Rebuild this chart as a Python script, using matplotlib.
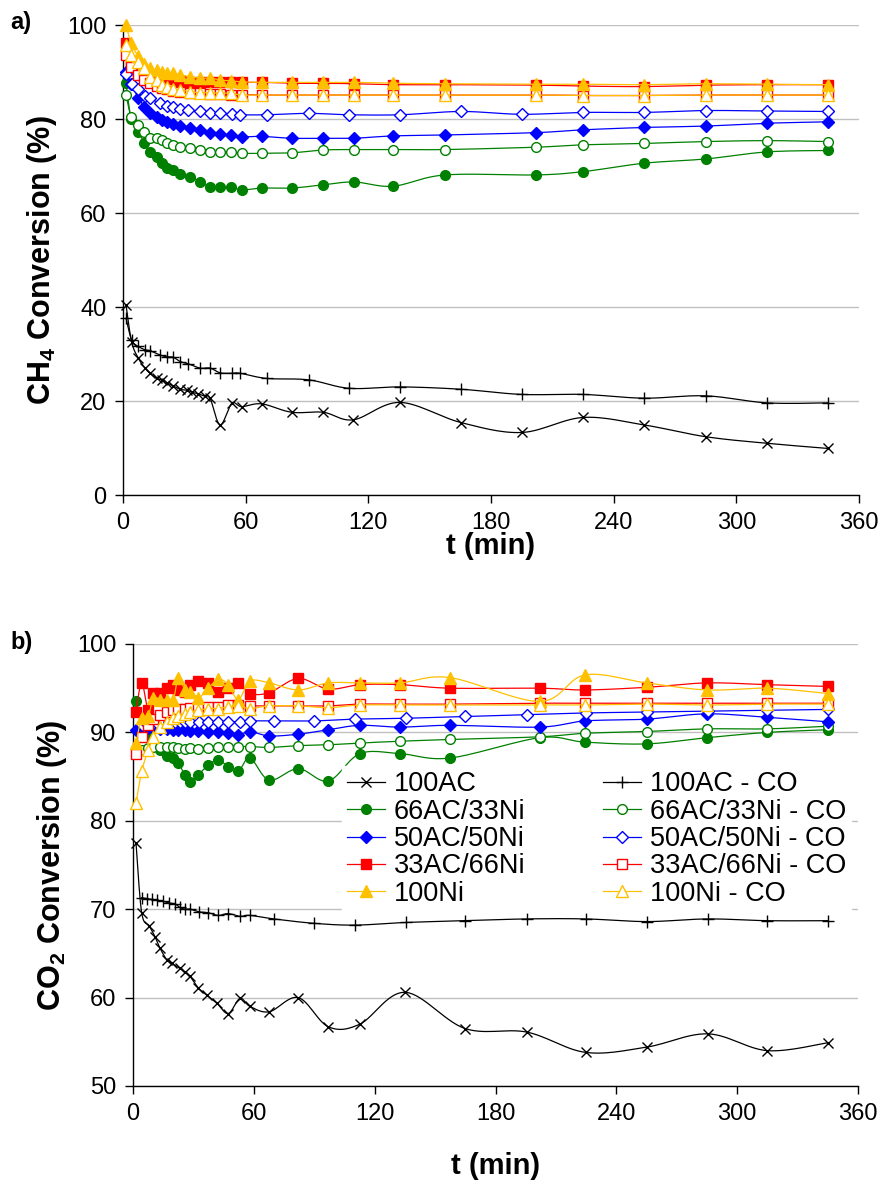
import numpy as np
import matplotlib
matplotlib.use("Agg")
import matplotlib.pyplot as plt
from matplotlib.lines import Line2D

plt.rcParams["font.family"] = ["Liberation Sans", "DejaVu Sans"]
plt.rcParams["mathtext.fontset"] = "custom"
plt.rcParams["mathtext.rm"] = "Liberation Sans"
plt.rcParams["mathtext.bf"] = "Liberation Sans:bold"

# ---------------- panel a) CH4 conversion ----------------
t_a_ac = [1.5, 4.2, 7.5, 10.8, 13.2, 16.5, 18.9, 21.4, 24.6, 27.9, 31.2, 33.6, 36.9, 40.1, 42.6,
          47.5, 53.2, 58.0, 67.8, 82.5, 98.0, 112.7, 135.5, 165.4, 195, 225, 255, 285, 315, 345]
ch4_100ac = [40.4, 32.6, 29.1, 27.0, 25.9, 24.8, 24.5, 23.9, 23.2, 22.5, 22.3, 21.9, 21.5, 21.0, 20.6,
             14.9, 19.5, 18.8, 19.4, 17.6, 17.6, 16.0, 19.7, 15.4, 13.3, 16.5, 14.9, 12.4, 11.0, 9.9]

t_a_co = [1.5, 4.2, 7.5, 10.8, 13.2, 18.0, 21.4, 24.6, 27.9, 32.0, 37.7, 42.6, 47.5, 53.2, 57.3,
          70.4, 90.8, 110.7, 135.5, 165.4, 195, 225, 255, 285, 315, 345]
ch4_100ac_co = [37.6, 33.0, 31.6, 30.9, 30.7, 29.8, 29.4, 29.3, 28.4, 27.9, 27.0, 27.0, 26.0, 25.9, 25.9,
                24.8, 24.5, 22.7, 23.0, 22.5, 21.4, 21.4, 20.6, 21.1, 19.6, 19.6]
ch4_50_co = [89.5, 87.5, 86.3, 85.0, 84.4, 83.3, 82.8, 82.5, 82.2, 82.0, 81.6, 81.3, 81.2, 81.1, 80.9,
             80.9, 81.2, 80.9, 80.9, 81.6, 81.0, 81.4, 81.4, 81.8, 81.7, 81.6]

t_a = [1.5, 4, 7.5, 10.5, 13, 16.5, 19, 21.5, 24.5, 28, 33, 37.5, 42.5, 47.5, 53, 58, 68, 82.5,
       98, 113, 132, 157.5, 202, 225, 255, 285, 315, 345]
ch4_66 = [87.6, 80.0, 77.3, 74.8, 73.0, 72.0, 70.6, 69.5, 69.1, 68.4, 67.7, 66.7, 65.6, 65.6, 65.6,
          64.9, 65.3, 65.3, 66.0, 66.6, 65.7, 68.1, 68.1, 68.8, 70.6, 71.5, 73.0, 73.3]
ch4_66_co = [85.1, 80.5, 78.7, 77.3, 75.9, 75.9, 75.5, 74.8, 74.5, 74.1, 73.8, 73.4, 73.0, 73.0, 73.0,
             72.7, 72.7, 72.8, 73.4, 73.5, 73.5, 73.5, 74.0, 74.5, 74.8, 75.2, 75.4, 75.2]
ch4_50 = [90.0, 87.5, 84.5, 82.6, 81.2, 80.5, 79.8, 79.4, 78.9, 78.5, 78.1, 77.7, 77.1, 76.8, 76.6,
          76.2, 76.3, 75.9, 75.9, 75.9, 76.4, 76.6, 77.1, 77.7, 78.2, 78.5, 79.1, 79.4]
ch4_33 = [96.1, 91.5, 90.1, 89.7, 89.4, 89.0, 88.7, 88.3, 88.3, 88.1, 87.9, 87.9, 87.8, 87.8, 87.8,
          87.8, 87.8, 87.6, 87.6, 87.5, 87.3, 87.3, 87.2, 87.0, 86.9, 87.2, 87.3, 87.3]
ch4_33_co = [93.6, 91.0, 89.3, 88.3, 87.6, 87.0, 86.6, 86.3, 86.0, 85.8, 85.6, 85.5, 85.4, 85.3, 85.2,
             85.2, 85.1, 85.1, 85.1, 85.1, 85.1, 85.1, 85.1, 85.0, 85.0, 85.1, 85.1, 85.1]
ch4_ni = [100.0, 96.1, 93.3, 91.8, 90.8, 90.4, 90.1, 89.7, 89.7, 89.4, 89.0, 88.7, 88.7, 88.3, 88.1,
          87.9, 87.8, 87.8, 87.8, 87.8, 87.6, 87.5, 87.4, 87.4, 87.3, 87.5, 87.4, 87.3]
ch4_ni_co = [95.7, 93.6, 92.2, 90.8, 89.0, 88.3, 87.2, 86.9, 86.3, 86.2, 85.8, 85.6, 85.6, 85.5, 85.5,
             85.1, 85.1, 85.1, 85.1, 85.1, 85.1, 85.1, 85.1, 85.0, 85.0, 85.1, 85.1, 85.1]

# ---------------- panel b) CO2 conversion ----------------
t_b_ac = [1.5, 4.3, 8.1, 10.9, 13.4, 16.7, 19.2, 23.3, 25.8, 28.3, 32.4, 36.6, 41.5, 47.3, 53.1, 58.1,
          67.7, 82.1, 97, 112.7, 135.1, 164.9, 195.5, 224.8, 255.1, 285.4, 315, 345.3]
co2_100ac = [77.5, 69.6, 68.1, 66.9, 65.6, 64.3, 63.9, 63.3, 62.9, 62.4, 61.1, 60.3, 59.4, 58.2, 59.9, 59.0,
             58.4, 60.0, 56.7, 57.0, 60.6, 56.5, 56.1, 53.8, 54.4, 55.9, 54.0, 54.9]

t_b_co = [4.3, 6.8, 9.3, 11.8, 14.7, 18.0, 20.9, 23.3, 25.8, 28.3, 32.9, 37.4, 42.4, 47.3, 53.1, 58.1,
          70, 90, 110.2, 135.6, 164.9, 195.5, 224.8, 255.1, 285.4, 315, 345.3]
co2_100ac_co = [71.3, 71.2, 71.1, 71.0, 70.9, 70.7, 70.6, 70.2, 70.0, 70.0, 69.7, 69.6, 69.3, 69.5, 69.2, 69.3,
                68.9, 68.4, 68.2, 68.5, 68.7, 68.9, 68.9, 68.6, 68.9, 68.7, 68.7]
co2_50_co = [90.8, 91.0, 91.0, 91.1, 91.2, 91.2, 91.2, 91.2, 91.2, 91.2, 91.2, 91.2, 91.2, 91.2, 91.2, 91.3,
             91.3, 91.3, 91.5, 91.6, 91.8, 92.0, 92.2, 92.3, 92.4, 92.5, 92.6]

t_b = [1.5, 4.3, 7.6, 10.1, 13.4, 16.7, 20.0, 22.5, 25.8, 28.3, 32.4, 37.4, 42.4, 47.3, 52.3, 58.1,
       67.7, 82.1, 97, 112.7, 132.6, 157.4, 202, 224.4, 255, 285, 315, 345]
co2_66 = [93.6, 91.0, 89.5, 88.5, 88.0, 87.3, 87.1, 86.5, 85.2, 84.4, 85.2, 86.3, 86.9, 86.1, 85.6, 87.1,
          84.6, 85.9, 84.5, 87.6, 87.6, 87.1, 89.4, 88.9, 88.7, 89.4, 90.0, 90.3]
co2_66_co = [88.0, 88.0, 88.2, 88.3, 88.3, 88.3, 88.3, 88.2, 88.1, 88.2, 88.1, 88.2, 88.3, 88.4, 88.4, 88.4,
             88.3, 88.5, 88.6, 88.8, 89.0, 89.2, 89.5, 89.9, 90.1, 90.4, 90.4, 90.7]
co2_50 = [90.3, 90.5, 90.5, 90.5, 90.4, 90.4, 90.3, 90.3, 90.3, 90.2, 90.2, 90.1, 90.1, 89.9, 89.7, 90.1,
          89.6, 89.8, 90.3, 90.8, 90.6, 90.8, 90.6, 91.3, 91.5, 92.1, 91.7, 91.2]
co2_33 = [92.3, 95.6, 92.5, 94.5, 94.5, 95.0, 95.4, 94.8, 94.6, 95.4, 95.8, 95.6, 94.6, 95.0, 95.6, 94.4,
          94.5, 96.1, 94.9, 95.4, 95.4, 95.0, 95.0, 94.8, 95.1, 95.6, 95.4, 95.2]
co2_33_co = [87.6, 89.5, 90.8, 91.5, 92.0, 92.3, 92.5, 92.6, 92.7, 92.8, 92.9, 92.9, 92.9, 93.1, 93.1, 93.0,
             93.0, 93.0, 93.0, 93.2, 93.2, 93.2, 93.3, 93.3, 93.3, 93.3, 93.3, 93.3]
co2_ni = [88.8, 91.6, 91.9, 93.9, 93.7, 93.7, 93.7, 96.2, 94.8, 94.6, 93.9, 95.0, 96.0, 95.4, 93.7, 95.8,
          95.6, 94.8, 95.6, 95.6, 95.6, 96.2, 93.5, 96.5, 95.6, 94.8, 95.0, 94.4]
co2_ni_co = [82.0, 85.6, 88.0, 89.5, 90.6, 91.2, 91.6, 91.9, 92.1, 92.3, 92.5, 92.7, 92.7, 92.9, 93.0, 92.7,
             93.0, 93.0, 92.8, 93.1, 93.1, 93.1, 93.1, 93.1, 93.2, 93.1, 93.2, 93.2]

labels = ["100AC", "66AC/33Ni", "50AC/50Ni", "33AC/66Ni", "100Ni",
          "100AC - CO", "66AC/33Ni - CO", "50AC/50Ni - CO", "33AC/66Ni - CO", "100Ni - CO"]

GREEN, BLUE, RED, GOLD = "#008000", "#0000FF", "#FF0000", "#FFC000"

# marker style for each label: (color, marker, size, filled)
styles = {
    "100AC": ("black", "x", 7, True),
    "100AC - CO": ("black", "+", 9, True),
    "66AC/33Ni": (GREEN, "o", 7, True),
    "66AC/33Ni - CO": (GREEN, "o", 7, False),
    "50AC/50Ni": (BLUE, "D", 6.5, True),
    "50AC/50Ni - CO": (BLUE, "D", 6.5, False),
    "33AC/66Ni": (RED, "s", 7, True),
    "33AC/66Ni - CO": (RED, "s", 7, False),
    "100Ni": (GOLD, "^", 8.5, True),
    "100Ni - CO": (GOLD, "^", 8.5, False),
}


def smooth(x, y, n=16):
    """Excel-like smoothed line (Catmull-Rom / Bezier) through the points."""
    p = np.column_stack([x, y]).astype(float)
    out = [p[0]]
    s = np.linspace(0, 1, n)[1:, None]
    for i in range(len(p) - 1):
        p0 = p[i - 1] if i > 0 else p[i]
        p1, p2 = p[i], p[i + 1]
        p3 = p[i + 2] if i + 2 < len(p) else p[i + 1]
        c1 = p1 + (p2 - p0) / 6.0
        c2 = p2 - (p3 - p1) / 6.0
        seg = ((1 - s) ** 3) * p1 + 3 * ((1 - s) ** 2) * s * c1 + 3 * (1 - s) * s ** 2 * c2 + s ** 3 * p2
        out.extend(seg)
    out = np.array(out)
    return out[:, 0], out[:, 1]


def marker_kw(label):
    color, marker, ms, filled = styles[label]
    kw = dict(color=color, marker=marker, markersize=ms, markeredgecolor=color,
              markeredgewidth=1.0)
    if marker not in ("x", "+"):
        kw["markerfacecolor"] = color if filled else "white"
    return kw


def draw_series(ax, t, v, label):
    color = styles[label][0]
    sx, sy = smooth(t, v)
    ax.plot(sx, sy, color=color, lw=0.9, zorder=3, clip_on=False)
    ax.plot(t, v, ls="none", zorder=3, clip_on=False, **marker_kw(label))


def style_axes(ax, ymin, ymax, ystep, ylabel, xpad):
    ax.set_xlim(0, 360)
    ax.set_ylim(ymin, ymax)
    ax.set_xticks(np.arange(0, 361, 60))
    ax.set_yticks(np.arange(ymin, ymax + 0.1, ystep))
    ax.grid(axis="y", color="#c0c0c0", lw=1.0, zorder=0)
    ax.set_axisbelow(True)
    for side in ("top", "right"):
        ax.spines[side].set_visible(False)
    for side in ("left", "bottom"):
        ax.spines[side].set_linewidth(1.0)
    ax.tick_params(direction="out", length=6, width=1.0, labelsize=17, pad=6)
    ax.set_xlabel("t (min)", fontsize=21, fontweight="bold", labelpad=xpad)
    ax.set_ylabel(ylabel, fontsize=22, fontweight="bold", labelpad=6)


fig = plt.figure(figsize=(8.84, 11.88), dpi=100)
ax1 = fig.add_axes([123 / 884, 1 - 495 / 1188, 736 / 884, 470 / 1188])
ax2 = fig.add_axes([133 / 884, 1 - 1086 / 1188, 725 / 884, 442 / 1188])

# panel a
draw_series(ax1, t_a_ac, ch4_100ac, "100AC")
draw_series(ax1, t_a_co, ch4_100ac_co, "100AC - CO")
draw_series(ax1, t_a, ch4_66, "66AC/33Ni")
draw_series(ax1, t_a, ch4_66_co, "66AC/33Ni - CO")
draw_series(ax1, t_a, ch4_50, "50AC/50Ni")
draw_series(ax1, t_a_co, ch4_50_co, "50AC/50Ni - CO")
draw_series(ax1, t_a, ch4_33, "33AC/66Ni")
draw_series(ax1, t_a, ch4_33_co, "33AC/66Ni - CO")
draw_series(ax1, t_a, ch4_ni, "100Ni")
draw_series(ax1, t_a, ch4_ni_co, "100Ni - CO")
style_axes(ax1, 0, 100, 20, r"CH$_\mathbf{4}$ Conversion (%)", -1)

# panel b
draw_series(ax2, t_b_ac, co2_100ac, "100AC")
draw_series(ax2, t_b_co, co2_100ac_co, "100AC - CO")
draw_series(ax2, t_b, co2_66, "66AC/33Ni")
draw_series(ax2, t_b, co2_66_co, "66AC/33Ni - CO")
draw_series(ax2, t_b, co2_50, "50AC/50Ni")
draw_series(ax2, t_b_co, co2_50_co, "50AC/50Ni - CO")
draw_series(ax2, t_b, co2_33, "33AC/66Ni")
draw_series(ax2, t_b, co2_33_co, "33AC/66Ni - CO")
draw_series(ax2, t_b, co2_ni, "100Ni")
draw_series(ax2, t_b, co2_ni_co, "100Ni - CO")
style_axes(ax2, 50, 100, 10, r"CO$_\mathbf{2}$ Conversion (%)", 20)

handles = [Line2D([], [], lw=0.9, **marker_kw(lab)) for lab in labels]
leg = ax2.legend(handles, labels, ncol=2, loc="upper left", bbox_to_anchor=(0.288, 0.724),
                 fontsize=19.5, frameon=True, fancybox=False, framealpha=1.0,
                 edgecolor="white", facecolor="white", borderaxespad=0, borderpad=0.2,
                 labelspacing=0.05, handlelength=1.4, handletextpad=0.33, columnspacing=2.85)
leg.set_zorder(5)

fig.text(10 / 884, 1 - 22 / 1188, "a)", fontsize=17, fontweight="bold", va="center")
fig.text(10 / 884, 1 - 643 / 1188, "b)", fontsize=17, fontweight="bold", va="center")

fig.savefig("out.png", dpi=100)
